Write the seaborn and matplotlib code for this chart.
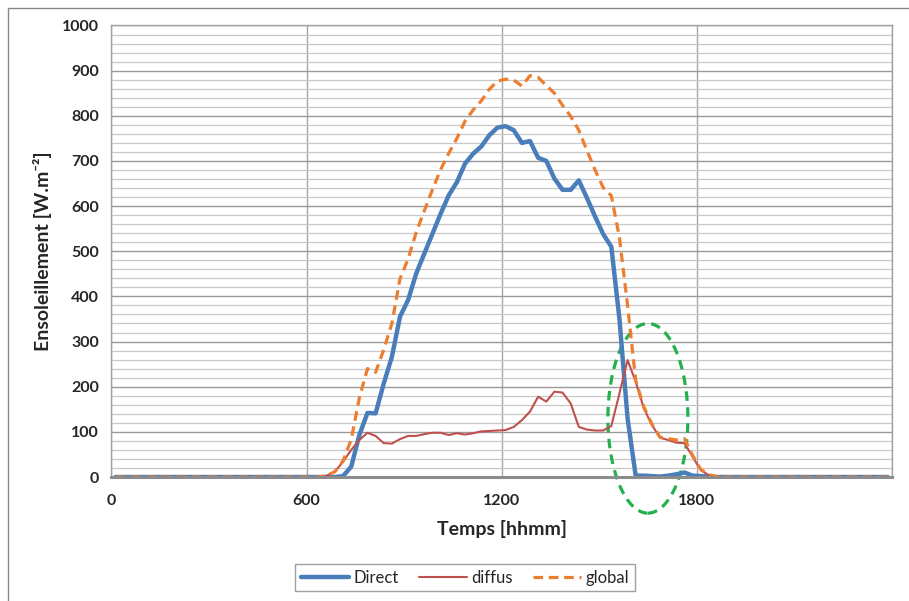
import numpy as np
import pandas as pd
import matplotlib
matplotlib.use("Agg")
from matplotlib import pyplot as plt
from matplotlib.patches import Ellipse, Rectangle
from matplotlib.ticker import MultipleLocator
import seaborn as sns

temps = np.arange(96) * 25 + 12.5   # echelle hhmm lineaire (600 = 6h00)

direct = ([0] * 28 +
          [2, 23, 93, 142, 141, 207, 266, 355, 392, 451, 495, 539, 583, 624,
           653, 694, 716, 732, 757, 774, 777, 768, 740, 744, 707, 700, 661,
           636, 636, 657, 618, 577, 538, 510, 350, 130, 3, 3, 2, 1, 3, 6, 10,
           3, 2, 1] +
          [0] * 22)

diffus = ([0] * 26 +
          [3, 12, 34, 60, 82, 98, 91, 75, 74, 84, 91, 91, 95, 98, 98, 93, 97,
           94, 97, 101, 102, 103, 104, 111, 126, 145, 178, 167, 189, 187, 163,
           111, 105, 103, 103, 113, 185, 259, 211, 152, 115, 87, 82, 76, 75,
           45, 15, 4, 1] +
          [0] * 21)

glob = ([0] * 26 +
        [3, 12, 36, 83, 175, 240, 232, 282, 340, 439, 483, 542, 590, 637, 681,
         717, 750, 788, 813, 833, 859, 877, 881, 879, 866, 889, 885, 867, 850,
         823, 799, 768, 723, 680, 641, 623, 530, 380, 214, 155, 117, 88, 85,
         82, 85, 48, 17, 5, 1] +
        [0] * 21)

xticks = [0, 600, 1200, 1800, 2400]
xlabels = ["0", "600", "1200", "1800", ""]

df = pd.DataFrame({"temps": temps, "Direct": direct, "diffus": diffus, "global": glob})

sns.set_style("white")
plt.rcParams["font.family"] = ["Lato", "DejaVu Sans"]

fig = plt.figure(figsize=(9.09, 6.01), dpi=100)
ax = fig.add_axes([0.1226, 0.2063, 0.8584, 0.7513])

sns.lineplot(data=df, x="temps", y="Direct", ax=ax, color="#4A7EBB", lw=3.2, label="Direct")
sns.lineplot(data=df, x="temps", y="diffus", ax=ax, color="#C0504D", lw=1.5, label="diffus")
sns.lineplot(data=df, x="temps", y="global", ax=ax, color="#ED7D31", lw=2.3,
             linestyle=(0, (3, 1.8)), label="global")

ax.set_xlim(0, 2400)
ax.set_ylim(0, 1000)
ax.set_xticks(xticks)
ax.set_xticklabels(xlabels)
ax.yaxis.set_major_locator(MultipleLocator(100))
ax.yaxis.set_minor_locator(MultipleLocator(20))

ax.grid(which="major", axis="y", color="#9a9a9a", lw=1)
ax.grid(which="minor", axis="y", color="#c8c8c8", lw=0.9)
ax.grid(which="major", axis="x", color="#a6a6a6", lw=1)
ax.set_axisbelow(True)

for s in ["left", "right", "top"]:
    ax.spines[s].set_color("#a0a0a0")
    ax.spines[s].set_linewidth(1)
ax.spines["bottom"].set_color("#8c8c8c")
ax.spines["bottom"].set_linewidth(2.2)

ax.tick_params(axis="both", which="major", direction="out", length=5, width=1,
               color="#8c8c8c", labelsize=11.5)
ax.tick_params(axis="x", pad=7)
ax.tick_params(axis="y", pad=4)
ax.tick_params(which="minor", length=0)
for lab in ax.get_xticklabels() + ax.get_yticklabels():
    lab.set_fontweight("bold")

ax.set_xlabel("Temps [hhmm]", fontsize=14, fontweight="bold", labelpad=9)
ax.set_ylabel("Ensoleillement [W.m⁻²]", fontsize=14, fontweight="bold", labelpad=7)

# zone entouree
ax.add_patch(Ellipse((1650, 130), width=246, height=420, fill=False,
                     edgecolor="#22B14C", lw=2.3, linestyle=(0, (3, 2)), clip_on=False))

ax.legend(loc="center", bbox_to_anchor=(0.5116, 0.039), bbox_transform=fig.transFigure,
          ncol=3, frameon=True, fancybox=False, edgecolor="#888888", fontsize=12,
          handlelength=2.9, handletextpad=0.25, columnspacing=1.2, borderpad=0.35)

# cadre du graphique
fig.add_artist(Rectangle((8 / 909, -0.1), 1.2, 1 - 8 / 601 + 0.1, transform=fig.transFigure,
                         fill=False, edgecolor="#888888", lw=1))

fig.savefig("out.png", dpi=100)
